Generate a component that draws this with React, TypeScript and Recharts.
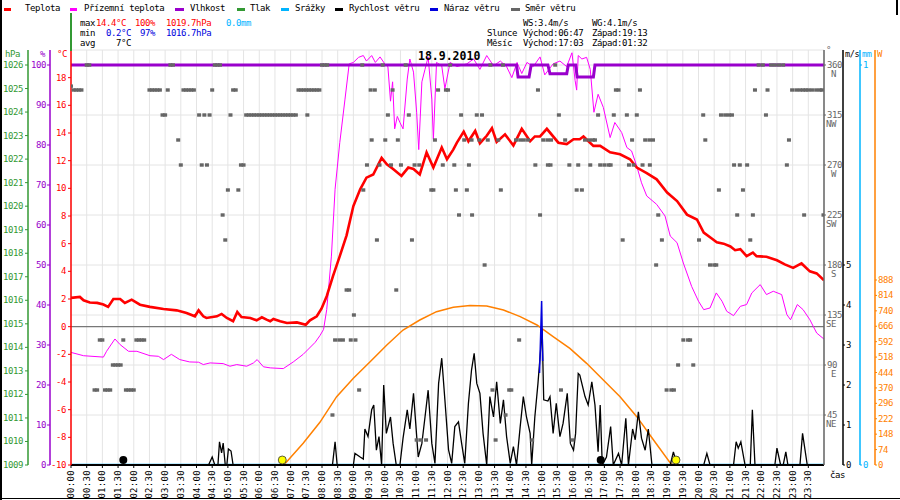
import React from "react";
import { ComposedChart, Line, Scatter, XAxis, YAxis, CartesianGrid, ReferenceLine } from "recharts";

const MONO = "'DejaVu Sans Mono', monospace";

const timeTicks = [0,30,60,90,120,150,180,210,240,270,300,330,360,390,420,450,480,510,540,570,600,630,660,690,720,750,780,810,840,870,900,930,960,990,1020,1050,1080,1110,1140,1170,1200,1230,1260,1290,1320,1350,1380,1410];
const tempTicks = [-10,-8,-6,-4,-2,0,2,4,6,8,10,12,14,16,18];
const humTicks = [0,10,20,30,40,50,60,70,80,90,100];
const presTicks = [1009,1010,1011,1012,1013,1014,1015,1016,1017,1018,1019,1020,1021,1022,1023,1024,1025,1026];
const dirTicks = [45,90,135,180,225,270,315,360];
const dirNames: Record<number, string> = { 45: "NE", 90: "E", 135: "SE", 180: "S", 225: "SW", 270: "W", 315: "NW", 360: "N" };
const speedTicks = [0,1,2,3,4,5];
const rainTicks = [0,1];
const sunTicks = [0,74,148,222,296,370,444,518,592,666,740,814,888];

// [minute of day, °C]
const temperature = [
[0,2.08],[17,2.15],[24,1.91],[36,1.75],[50,1.72],[62,1.6],[71,1.43],[81,2.0],[94,2.0],[103,1.71],[116,1.95],[132,1.59],[151,1.43],[177,1.28],[202,1.18],[221,0.99],[237,0.75],[244,1.18],[253,0.75],[259,0.63],[279,0.75],[288,0.92],[298,0.63],[310,0.39],[318,1.06],[326,0.7],[343,0.63],[355,0.46],[365,0.68],[374,0.51],[381,0.39],[387,0.56],[400,0.39],[413,0.27],[432,0.31],[449,0.14],[457,0.46],[470,0.75],[479,1.3],[489,2.2],[501,3.65],[514,5.1],[527,6.6],[540,8.72],[553,9.93],[565,10.77],[578,11.0],[594,12.2],[604,11.74],[616,11.4],[632,10.9],[645,11.5],[655,11.4],[667,11.0],[680,12.6],[693,11.5],[709,12.95],[719,12.1],[731,12.8],[738,13.3],[751,14.1],[760,13.4],[773,14.15],[782,13.26],[795,13.8],[805,14.35],[814,13.36],[830,13.9],[846,13.1],[862,14.3],[878,13.4],[887,13.75],[897,13.75],[910,14.3],[932,13.3],[948,13.2],[961,13.55],[973,13.55],[980,13.75],[999,13.07],[1012,13.07],[1031,12.6],[1050,12.46],[1069,12.1],[1082,11.5],[1101,11.1],[1120,10.65],[1140,9.7],[1159,9.08],[1178,8.1],[1197,7.75],[1210,6.8],[1226,6.35],[1235,6.1],[1248,6.0],[1261,5.8],[1270,5.53],[1280,5.6],[1292,5.1],[1304,5.35],[1311,5.1],[1330,5.05],[1350,4.8],[1365,4.5],[1381,4.25],[1397,4.57],[1413,4.0],[1426,3.85],[1440,3.36]
];

// [minute, °C]
const groundTemp = [
[0,-1.86],[24,-2.1],[62,-2.2],[68,-1.78],[84,-0.89],[94,-1.3],[110,-1.78],[126,-1.78],[151,-2.1],[167,-2.14],[177,-2.38],[192,-2.0],[208,-2.38],[227,-2.55],[244,-2.57],[253,-2.74],[266,-2.62],[291,-2.67],[304,-2.86],[317,-2.74],[336,-2.86],[349,-2.62],[356,-2.38],[368,-2.9],[381,-2.98],[406,-3.03],[425,-2.55],[444,-2.0],[467,-1.13],[476,-0.65],[483,-0.2],[489,1.23],[498,5.1],[505,9.93],[514,13.3],[524,16.45],[532,19.0],[540,19.1],[550,19.47],[559,19.6],[565,19.2],[575,19.6],[582,19.1],[591,19.5],[600,19.0],[606,18.8],[611,16.3],[615,17.7],[619,14.3],[624,15.2],[629,14.76],[635,14.3],[643,17.9],[648,19.35],[655,18.4],[661,15.5],[665,12.8],[671,17.7],[677,18.6],[683,19.5],[690,16.45],[693,13.55],[699,19.1],[709,18.86],[715,17.2],[725,19.1],[738,18.8],[757,19.0],[770,19.35],[782,18.6],[795,19.6],[808,18.86],[821,19.2],[833,18.8],[843,18.0],[853,19.1],[862,18.3],[872,19.1],[884,18.8],[897,19.5],[906,18.2],[922,19.0],[935,19.2],[948,18.8],[958,19.8],[964,17.8],[967,17.1],[970,19.6],[977,19.35],[986,19.47],[993,18.6],[1000,15.5],[1008,16.8],[1018,15.85],[1031,13.67],[1040,14.76],[1053,14.04],[1063,12.95],[1072,12.7],[1082,11.6],[1091,10.4],[1101,9.45],[1120,8.84],[1136,8.0],[1146,6.55],[1159,6.07],[1171,4.6],[1187,2.9],[1200,1.84],[1210,1.23],[1222,1.35],[1234,2.44],[1245,1.84],[1254,1.11],[1267,0.8],[1280,1.47],[1292,1.6],[1302,2.44],[1318,3.04],[1330,2.32],[1343,2.56],[1359,2.32],[1369,0.87],[1376,0.5],[1389,1.6],[1400,1.23],[1413,0.5],[1426,-0.46],[1440,-0.9]
];

// [minute, %]
const humidity = [
[0,100],[852,100],[855,97],[876,97],[880,100],[912,100],[916,97.8],[948,97.8],[951,100],[965,100],[968,97],[999,97],[1002,100],[1440,100]
];

// [minute, mm]
const rain = [[0,0],[1440,0]];

// [minute, m/s]
const windSpeed = [
[0,0],[263,0],[270,0.2],[275,0],[281,0],[284,0.58],[288,0.3],[291,0.55],[295,0],[298,0],[301,0.4],[306,0.35],[310,0],[500,0],[505,0.58],[509,0],[540,0],[543,0.29],[553,0.2],[559,0.15],[562,0.9],[568,0.71],[575,1.38],[579,1.5],[584,0.37],[589,0.71],[594,0],[598,2.0],[603,0.79],[611,1.2],[616,0.54],[622,0],[629,0],[635,0.67],[643,1.38],[648,0.9],[655,1.79],[664,0.2],[671,0.54],[677,1.2],[683,1.87],[690,0.54],[696,0.04],[703,2.04],[709,2.67],[715,1.63],[722,0.38],[728,0.04],[734,0.96],[741,1.08],[747,0.54],[753,0.04],[760,1.54],[766,2.38],[771,2.79],[776,2.04],[782,1.79],[788,0.79],[795,0],[801,1.71],[808,1.2],[814,2.08],[821,1.04],[827,1.63],[833,0.71],[840,0.04],[846,0.46],[852,0],[859,0.96],[865,1.71],[871,1.2],[878,0.79],[881,0],[887,1.2],[893,2.04],[898,2.87],[901,3.4],[904,1.63],[912,1.6],[916,1.71],[922,0.79],[928,1.54],[935,0.71],[941,1.04],[949,1.79],[955,0.54],[961,0.37],[965,0.79],[970,2.29],[973,2.25],[983,1.71],[989,1.5],[996,2.08],[1002,1.5],[1008,0.33],[1012,1.5],[1016,0],[1024,0.2],[1032,0.96],[1037,0],[1047,0.29],[1053,0],[1061,1.17],[1066,0],[1074,0.9],[1079,0.63],[1085,1.33],[1091,0.67],[1098,0.37],[1104,0.9],[1111,0],[1146,0],[1152,0.33],[1159,0],[1210,0],[1216,0.29],[1222,0],[1267,0],[1272,0.58],[1276,0.42],[1281,0.58],[1289,0],[1299,0],[1303,1.38],[1308,0],[1346,0],[1350,0.42],[1357,0],[1362,0],[1367,0.33],[1371,0],[1394,0],[1399,0.79],[1408,0],[1440,0]
];

// [minute, m/s]
const windGust = [[896,2.3],[900,4.1],[902,2.6]];

// [minute, W]
const sunPower = [
[407,0],[444,104],[476,205],[508,328],[540,416],[572,496],[604,576],[635,648],[667,696],[699,736],[731,757],[763,765],[795,763],[827,744],[859,712],[891,672],[922,616],[954,560],[986,488],[1018,408],[1050,328],[1082,232],[1114,120],[1146,10],[1153,0]
];

// [minute, degrees]
const windDir = [
[0,341],[5,337.5],[10,337.5],[15,337.5],[20,337.5],[30,360],[35,360],
[45,67.5],[50,67.5],[55,112.5],[60,112.5],[65,67.5],[70,67.5],[75,67.5],
[80,90],[85,90],[90,90],[95,90],[100,112.5],[105,67.5],[110,67.5],[115,67.5],[120,67.5],
[125,112.5],[130,112.5],[135,112.5],[140,112.5],
[150,337.5],[155,337.5],[160,337.5],[165,337.5],[170,337.5],[175,315],[180,315],[185,337.5],[190,360],[195,360],
[205,292.5],[210,270],[215,337.5],[220,337.5],[225,337.5],[230,337.5],[235,337.5],[245,315],[250,270],[255,315],[260,270],[265,315],[270,337.5],
[275,360],[280,360],[285,360],[290,225],[295,202.5],[300,247.5],[305,315],[310,337.5],[315,337.5],[320,247.5],[325,270],[330,270],
[335,315],[340,315],[345,315],[350,315],[355,315],[360,315],[365,315],[370,315],[375,315],[380,315],[385,315],[390,315],[395,315],[400,315],[405,315],[410,315],[415,315],[420,315],[425,315],[430,315],
[435,337.5],[440,337.5],[445,337.5],[450,337.5],[452,315],[455,337.5],[460,337.5],[465,337.5],[470,337.5],[475,337.5],
[480,360],[485,360],[490,360],
[500,45],[505,112.5],[513,112.5],[520,112.5],[527,157.5],[532,157.5],[535,112.5],[541,135],[544,112.5],[551,67.5],[557,360],[559,247.5],[566,270],[573,337.5],[575,292.5],[581,337.5],[585,202.5],[590,270],[596,360],[601,292.5],[606,315],[612,270],[615,337.5],[622,157.5],[625,292.5],[631,270],[640,360],[646,315],[652,202.5],[657,270],[661,22.5],[666,270],[669,22.5],[679,22.5],[689,247.5],[693,247.5],[696,292.5],[702,337.5],[711,270],[717,337.5],[721,337.5],[725,360],[733,270],[736,247.5],[742,225],[746,315],[752,292.5],[757,247.5],[761,270],[766,292.5],[767,225],[776,315],[781,292.5],[786,315],[791,180],[797,292.5],[802,360],[806,67.5],[812,22.5],[817,292.5],[822,247.5],[826,360],[831,45],[838,67.5],[842,67.5],[851,292.5],[857,112.5],[859,292.5],[866,292.5],[874,292.5],[882,22.5],[888,270],[893,337.5],[897,225],[903,292.5],[911,292.5],[912,270],[917,270],[918,292.5],[926,360],[933,315],[937,67.5],[945,292.5],[953,270],[959,22.5],[967,247.5],[970,270],
[977,247.5],[983,292.5],[991,292.5],[993,270],[998,292.5],[1002,292.5],[1008,315],[1012,270],[1020,270],[1028,270],[1032,270],[1038,315],[1042,337.5],[1047,337.5],[1055,202.5],[1063,315],[1067,270],[1073,292.5],[1076,270],[1082,315],[1088,337.5],[1093,270],[1098,292.5],[1106,292.5],[1107,270],[1113,292.5],[1119,180],[1123,225],[1130,202.5],[1139,67.5],[1148,67.5],[1153,67.5],[1161,90],[1171,112.5],[1180,112.5],[1184,112.5],[1190,90],[1201,202.5],[1209,315],[1213,292.5],[1222,180],[1230,180],[1234,180],[1239,247.5],[1243,315],[1251,315],[1258,315],[1264,315],[1268,270],[1274,225],[1279,270],[1285,247.5],[1293,270],[1299,202.5],[1304,225],[1308,337.5],[1315,360],[1323,360],[1329,315],[1332,337.5],[1339,360],[1346,360],[1354,360],[1362,360],[1369,270],[1373,292.5],[1379,337.5],[1387,337.5],[1394,337.5],[1400,337.5],[1402,225],[1405,337.5],[1410,337.5],[1417,337.5],[1425,337.5],[1432,337.5],[1436,337.5],[1439,225]
];

// sunrise / sunset and moonset / moonrise markers [minute, m/s-axis height]
const sunMarks = [[404,0.125],[1157,0.125]];
const moonMarks = [[100,0.125],[1013,0.125]];

const pts = (a: number[][]) => a.map(([m, v]) => ({ m, v }));

const pad = (n: number) => (n < 10 ? "0" + n : "" + n);

const TimeTick = (props: any) => {
  const { x, y, payload } = props;
  const v = payload.value;
  const label = pad(Math.floor(v / 60)) + ":" + pad(v % 60);
  return (
    <text x={x} y={y} transform={`rotate(-90 ${x} ${y})`} textAnchor="end" dominantBaseline="central"
      fontSize={9} fontFamily={MONO} fill="#000" letterSpacing={0.3}>{label}</text>
  );
};

const mkTick = (color: string, anchor: "start" | "end") => (props: any) => {
  const { x, y, payload } = props;
  return (
    <text x={x} y={y} fill={color} fontSize={9} fontFamily={MONO} textAnchor={anchor}
      dominantBaseline="central" letterSpacing={-0.4}>{payload.value}</text>
  );
};

const DirTick = (props: any) => {
  const { x, y, payload } = props;
  return (
    <g>
      <text x={x} y={y} fill="#666" fontSize={9} fontFamily={MONO} textAnchor="start" dominantBaseline="central" letterSpacing={-0.4}>{payload.value}</text>
      <text x={x + 9} y={y + 9} fill="#666" fontSize={9} fontFamily={MONO} textAnchor="end" dominantBaseline="central" letterSpacing={-0.4}>{dirNames[payload.value]}</text>
    </g>
  );
};

const DirMark = (p: any) => <rect x={p.cx - 2} y={p.cy - 1.7} width={4} height={3.4} fill="#666" />;
const SunMark = (p: any) => <circle cx={p.cx} cy={p.cy} r={4} fill="#ffff00" stroke="#333" strokeWidth={0.8} />;
const MoonMark = (p: any) => <circle cx={p.cx} cy={p.cy} r={4} fill="#000" />;

const Txt = ({ x, y, c = "#000", size = 9, bold = false, children }: any) => (
  <div style={{ position: "absolute", left: x, top: y - size / 2 - 0.5, color: c, fontSize: size, lineHeight: `${size}px`,
    fontFamily: MONO, letterSpacing: bold ? 0 : -0.4, whiteSpace: "pre", fontWeight: bold ? 700 : 400 }}>{children}</div>
);

const Dash = ({ x, w, c }: any) => (
  <div style={{ position: "absolute", left: x, top: 7.5, width: w, height: 3, background: c }} />
);

const RED = "#ff0000", MAG = "#ff00ff", PUR = "#9900cc", GRN = "#339933", CYN = "#00b4ff", BLU = "#0000dd", GRY = "#666666", ORG = "#ff8000";

// axis ids: inner-most axis first on each side
const T = "a_temp", H = "b_hum", P = "c_pres";
const D = "a_dir", S = "b_speed", R = "c_rain", W = "d_sun";

export default function App() {
  return (
    <div style={{ position: "absolute", left: 0, top: 0, width: 900, height: 500, background: "#fff", overflow: "hidden" }}>
      <ComposedChart width={900} height={500} margin={{ top: 50, right: 0, bottom: 0, left: 0 }}>
        <XAxis dataKey="m" type="number" domain={[0, 1440]} ticks={timeTicks} interval={0} height={35}
          tick={<TimeTick />} tickSize={3} tickLine={{ stroke: "#000" }} axisLine={{ stroke: "#000", strokeWidth: 2 }} allowDataOverflow />
        <YAxis yAxisId={T} orientation="left" type="number" width={21} domain={[-10, 20]} ticks={tempTicks} interval={0}
          allowDataOverflow tick={mkTick(RED, "end")} tickSize={3} tickMargin={2} tickLine={{ stroke: RED }} axisLine={{ stroke: RED, strokeWidth: 1.5 }} />
        <YAxis yAxisId={H} orientation="left" type="number" width={22} domain={[0, 103.75]} ticks={humTicks} interval={0}
          allowDataOverflow tick={mkTick(PUR, "end")} tickSize={3} tickMargin={1} tickLine={{ stroke: PUR }} axisLine={{ stroke: PUR, strokeWidth: 1.5 }} />
        <YAxis yAxisId={P} orientation="left" type="number" width={28} domain={[1009, 1026.6375]} ticks={presTicks} interval={0}
          allowDataOverflow tick={mkTick(GRN, "end")} tickSize={3} tickMargin={2} tickLine={{ stroke: GRN }} axisLine={{ stroke: GRN, strokeWidth: 1.5 }} />
        <YAxis yAxisId={D} orientation="right" type="number" width={19} domain={[0, 373.5]} ticks={dirTicks} interval={0}
          allowDataOverflow tick={<DirTick />} tickSize={2} tickMargin={1} tickLine={{ stroke: GRY }} axisLine={{ stroke: GRY, strokeWidth: 1.5 }} />
        <YAxis yAxisId={S} orientation="right" type="number" width={17} domain={[0, 10.375]} ticks={speedTicks} interval={0}
          allowDataOverflow tick={mkTick("#000", "start")} tickSize={2} tickMargin={1} tickLine={{ stroke: "#000" }} axisLine={{ stroke: "#000", strokeWidth: 1.5 }} />
        <YAxis yAxisId={R} orientation="right" type="number" width={15} domain={[0, 1.0375]} ticks={rainTicks} interval={0}
          allowDataOverflow tick={mkTick(CYN, "start")} tickSize={2} tickMargin={1} tickLine={{ stroke: CYN }} axisLine={{ stroke: CYN, strokeWidth: 1.5 }} />
        <YAxis yAxisId={W} orientation="right" type="number" width={25} domain={[0, 1992]} ticks={sunTicks} interval={0}
          allowDataOverflow tick={mkTick(ORG, "start")} tickSize={2} tickMargin={1} tickLine={{ stroke: ORG }} axisLine={{ stroke: ORG, strokeWidth: 1.5 }} />
        <CartesianGrid yAxisId={D} stroke="#e4e4e4" strokeWidth={1} />
        <ReferenceLine yAxisId={T} y={0} stroke="#777" strokeWidth={1.2} />
        <Scatter yAxisId={D} data={pts(windDir)} dataKey="v" shape={DirMark} isAnimationActive={false} />
        <Line yAxisId={W} data={pts(sunPower)} dataKey="v" stroke={ORG} strokeWidth={1.5} dot={false} isAnimationActive={false} />
        <Line yAxisId={R} data={pts(rain)} dataKey="v" stroke={CYN} strokeWidth={2.5} dot={false} isAnimationActive={false} />
        <Line yAxisId={S} data={pts(windSpeed)} dataKey="v" stroke="#000" strokeWidth={1.3} dot={false} isAnimationActive={false} />
        <Line yAxisId={S} data={pts(windGust)} dataKey="v" stroke={BLU} strokeWidth={1.5} dot={false} isAnimationActive={false} />
        <Line yAxisId={T} data={pts(groundTemp)} dataKey="v" stroke={MAG} strokeWidth={1} dot={false} isAnimationActive={false} />
        <Line yAxisId={H} data={pts(humidity)} dataKey="v" stroke={PUR} strokeWidth={3} dot={false} isAnimationActive={false} />
        <Line yAxisId={T} data={pts(temperature)} dataKey="v" stroke={RED} strokeWidth={2.6} dot={false} isAnimationActive={false} />
        <Scatter yAxisId={S} data={pts(sunMarks)} dataKey="v" shape={SunMark} isAnimationActive={false} />
        <Scatter yAxisId={S} data={pts(moonMarks)} dataKey="v" shape={MoonMark} isAnimationActive={false} />
      </ComposedChart>

      {/* frame */}
      <div style={{ position: "absolute", left: 0, top: 0, width: 1.5, height: 500, background: "#000" }} />
      <div style={{ position: "absolute", left: 0, top: 497.5, width: 900, height: 1.5, background: "#000" }} />
      <div style={{ position: "absolute", left: 896, top: 0, width: 1.5, height: 15, background: "#000" }} />
      <div style={{ position: "absolute", left: 70, top: 13, width: 1.5, height: 38, background: GRN }} />

      {/* legend */}
      <Dash x={4} w={7} c={RED} /><Txt x={25} y={9}>Teplota</Txt>
      <Dash x={70} w={7} c={MAG} /><Txt x={84} y={9}>Přízemní teplota</Txt>
      <Dash x={175} w={9} c={PUR} /><Txt x={190} y={9}>Vlhkost</Txt>
      <Dash x={237} w={8} c={GRN} /><Txt x={250} y={9}>Tlak</Txt>
      <Dash x={281} w={8} c={CYN} /><Txt x={295} y={9}>Srážky</Txt>
      <Dash x={335} w={8} c="#000" /><Txt x={349} y={9}>Rychlost větru</Txt>
      <Dash x={430} w={8} c={BLU} /><Txt x={444} y={9}>Náraz větru</Txt>
      <Dash x={511} w={9} c={GRY} /><Txt x={525} y={9}>Směr větru</Txt>

      {/* stats */}
      <Txt x={80} y={24}>max</Txt><Txt x={96} y={24} c={RED}>14.4°C</Txt><Txt x={135} y={24} c={RED}>100%</Txt>
      <Txt x={166} y={24} c={RED}>1019.7hPa</Txt><Txt x={226} y={24} c={CYN}>0.0mm</Txt>
      <Txt x={80} y={34}>min</Txt><Txt x={106} y={34} c={BLU}>0.2°C</Txt><Txt x={140} y={34} c={BLU}>97%</Txt>
      <Txt x={166} y={34} c={BLU}>1016.7hPa</Txt>
      <Txt x={80} y={44}>avg</Txt><Txt x={116} y={44}>7°C</Txt>

      <Txt x={523} y={24}>WS:3.4m/s</Txt><Txt x={592} y={24}>WG:4.1m/s</Txt>
      <Txt x={487} y={34}>Slunce</Txt><Txt x={523} y={34}>Východ:06:47</Txt><Txt x={592} y={34}>Západ:19:13</Txt>
      <Txt x={487} y={44}>Měsíc</Txt><Txt x={523} y={44}>Východ:17:03</Txt><Txt x={592} y={44}>Západ:01:32</Txt>

      {/* title */}
      <Txt x={418} y={57} size={11.5} bold>18.9.2010</Txt>

      {/* axis units */}
      <Txt x={5} y={54.5} c={GRN}>hPa</Txt>
      <Txt x={40} y={54.5} c={PUR}>%</Txt>
      <Txt x={57} y={54.5} c={RED}>°C</Txt>
      <Txt x={826} y={51} c={GRY}>°</Txt>
      <Txt x={845} y={54.5} size={8.5}>m/s</Txt>
      <Txt x={862} y={54.5} size={8.5} c={CYN}>mm</Txt>
      <Txt x={877} y={54.5} c={ORG}>W</Txt>
      <Txt x={830} y={476}>čas</Txt>
    </div>
  );
}
